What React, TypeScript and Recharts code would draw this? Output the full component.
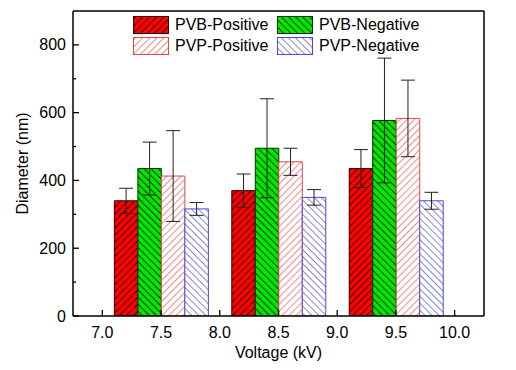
import React from "react";
import { BarChart, Bar, XAxis, YAxis, ErrorBar, Legend, Label } from "recharts";

const voltages = [7.5, 8.5, 9.5];
const pvbPositive = [340, 370, 435];
const pvbPositiveErr = [37, 49, 56];
const pvbNegative = [435, 495, 577];
const pvbNegativeErr = [78, 146, 184];
const pvpPositive = [413, 455, 583];
const pvpPositiveErr = [134, 40, 113];
const pvpNegative = [316, 350, 340];
const pvpNegativeErr = [19, 23, 25];

const xTicks = [7, 7.5, 8, 8.5, 9, 9.5, 10];
const yTicks = [0, 100, 200, 300, 400, 500, 600, 700, 800, 900];

const data = voltages.map((v, i) => ({
  x: v,
  pvbPos: pvbPositive[i],
  pvbPosErr: pvbPositiveErr[i],
  pvbNeg: pvbNegative[i],
  pvbNegErr: pvbNegativeErr[i],
  pvpPos: pvpPositive[i],
  pvpPosErr: pvpPositiveErr[i],
  pvpNeg: pvpNegative[i],
  pvpNegErr: pvpNegativeErr[i],
}));

const font = "'Liberation Sans', Arial, sans-serif";

const series = [
  { key: "pvbPos", name: "PVB-Positive", fill: "url(#hRed)", stroke: "#300" },
  { key: "pvbNeg", name: "PVB-Negative", fill: "url(#hGreen)", stroke: "#030" },
  { key: "pvpPos", name: "PVP-Positive", fill: "url(#hPink)", stroke: "#e04848" },
  { key: "pvpNeg", name: "PVP-Negative", fill: "url(#hBlue)", stroke: "#4848e0" },
];

function YTick({ x, y, payload }: any) {
  const v = payload.value;
  if (v >= 900) return null;
  const ax = x + 7;
  const major = v % 200 === 0;
  return (
    <g>
      <line x1={ax} x2={ax + (major ? 6 : 3)} y1={y} y2={y} stroke="#000" strokeWidth={1.3} />
      {major && (
        <text x={x} y={y} dy={5.5} textAnchor="end" fontSize={16} fontFamily={font} fill="#000">
          {v}
        </text>
      )}
    </g>
  );
}

function XTick({ x, y, payload }: any) {
  const ay = y - 9;
  return (
    <g>
      <line x1={x} x2={x} y1={ay} y2={ay - 6} stroke="#000" strokeWidth={1.3} />
      <text x={x} y={y} dy={12.5} textAnchor="middle" fontSize={16} fontFamily={font} fill="#000">
        {payload.value.toFixed(1)}
      </text>
    </g>
  );
}

function Swatch({ fill, stroke }: any) {
  return (
    <svg width={36} height={18} style={{ display: "block" }}>
      <rect x={0.5} y={0.5} width={35} height={17} fill={fill} stroke={stroke} strokeWidth={1} />
    </svg>
  );
}

function LegendBox() {
  const pos = [
    { left: 0, top: 0 },
    { left: 144, top: 0 },
    { left: 0, top: 21 },
    { left: 144, top: 21 },
  ];
  return (
    <div style={{ position: "relative", width: 300, height: 40, fontFamily: font, fontSize: 16 }}>
      {series.map((s, i) => (
        <div
          key={s.key}
          style={{ position: "absolute", left: pos[i].left, top: pos[i].top, display: "flex", alignItems: "center", whiteSpace: "nowrap" }}
        >
          <Swatch fill={s.fill} stroke={s.stroke} />
          <span style={{ marginLeft: 6, lineHeight: "18px", color: "#000" }}>{s.name}</span>
        </div>
      ))}
    </div>
  );
}

function Hatch({ id, bg, line, angle }: any) {
  return (
    <pattern id={id} patternUnits="userSpaceOnUse" width={5} height={5} patternTransform={`rotate(${angle})`}>
      <rect width={5} height={5} fill={bg} />
      <line x1={2.5} y1={0} x2={2.5} y2={5} stroke={line} strokeWidth={0.9} />
    </pattern>
  );
}

export default function App() {
  return (
    <div style={{ position: "absolute", left: 0, top: 0, background: "#fff" }}>
      <BarChart width={516} height={370} data={data} margin={{ top: 10, right: 31, left: 0, bottom: 0 }} barGap={0}>
        <defs>
          <Hatch id="hRed" bg="#ff0000" line="#2a0000" angle={45} />
          <Hatch id="hGreen" bg="#00e600" line="#002a00" angle={-45} />
          <Hatch id="hPink" bg="#ffffff" line="#e88080" angle={45} />
          <Hatch id="hBlue" bg="#ffffff" line="#7878c8" angle={-45} />
        </defs>
        <XAxis
          xAxisId="num"
          dataKey="x"
          type="number"
          domain={[6.75, 10.25]}
          ticks={xTicks}
          allowDataOverflow
          height={54}
          tickSize={0}
          tickMargin={9}
          tickLine={false}
          tick={<XTick />}
          axisLine={{ stroke: "#000", strokeWidth: 1.5 }}
        >
          <Label value="Voltage (kV)" position="center" dy={9} fontSize={16} fontFamily={font} fill="#000" />
        </XAxis>
        <XAxis xAxisId="cat" dataKey="x" type="category" hide height={0} padding={{ left: 29.36, right: 29.36 }} />
        <XAxis
          xAxisId="top"
          orientation="top"
          dataKey="x"
          type="number"
          domain={[6.75, 10.25]}
          allowDataOverflow
          height={1}
          tick={false}
          tickLine={false}
          axisLine={{ stroke: "#000", strokeWidth: 1.5 }}
        />
        <YAxis
          type="number"
          domain={[0, 900]}
          ticks={yTicks}
          allowDataOverflow
          width={73}
          tickSize={0}
          tickMargin={7}
          tickLine={false}
          tick={<YTick />}
          axisLine={{ stroke: "#000", strokeWidth: 1.5 }}
        >
          <Label value="Diameter (nm)" position="center" angle={-90} dx={-14} fontSize={16} fontFamily={font} fill="#000" />
        </YAxis>
        <YAxis
          yAxisId="right"
          orientation="right"
          type="number"
          domain={[0, 900]}
          width={1}
          tick={false}
          tickLine={false}
          axisLine={{ stroke: "#000", strokeWidth: 1.5 }}
        />
        <Legend
          layout="vertical"
          align="center"
          verticalAlign="middle"
          wrapperStyle={{ left: 133, top: 16 }}
          content={() => <LegendBox />}
        />
        {series.map((s) => (
          <Bar
            key={s.key}
            xAxisId="cat"
            dataKey={s.key}
            name={s.name}
            fill={s.fill}
            stroke={s.stroke}
            strokeWidth={1}
            barSize={23.5}
            isAnimationActive={false}
          >
            <ErrorBar dataKey={s.key + "Err"} width={7} stroke="#222" strokeWidth={1} direction="y" />
          </Bar>
        ))}
      </BarChart>
    </div>
  );
}
